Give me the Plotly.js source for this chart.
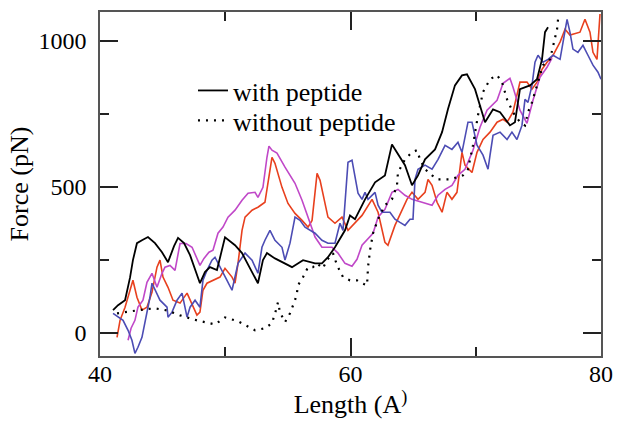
<!DOCTYPE html>
<html>
<head>
<meta charset="utf-8">
<script src="https://cdn.plot.ly/plotly-3.0.1.min.js"></script>
<style>
html,body{margin:0;padding:0;background:#fff;}
#chart svg text{font-family:'Liberation Serif','Times New Roman',serif !important;}
</style>
</head>
<body>
<div id="chart" style="width:621px;height:428px"></div>
<script>
// Series: black solid "with peptide"
var withX = [41.04,41.44,42.0,42.4,42.63,42.95,43.35,43.83,44.39,44.95,45.43,45.91,46.23,46.71,47.19,47.66,47.98,48.38,48.78,49.34,49.98,50.78,51.34,51.98,52.61,53.01,53.33,53.97,54.77,55.33,56.21,57.17,57.72,58.2,58.76,59.56,59.96,60.36,61.16,61.96,62.75,63.31,64.35,64.91,65.39,65.95,66.75,67.31,67.78,68.34,68.9,69.3,69.94,70.18,70.74,71.38,71.94,72.73,73.13,73.53,74.33,74.89,75.29,75.53,75.77];
var withY = [78,95,112,190,249,307,317,328,307,276,242,297,325,307,266,208,170,208,225,215,327,300,273,221,170,249,273,255,238,225,249,238,238,259,293,351,402,389,457,515,539,645,574,505,539,594,628,687,765,847,881,885,834,799,721,765,755,710,721,834,847,868,936,1029,1046];
// Series: black dotted "without peptide"
var withoutX = [41.36,42.4,43.43,44.39,45.35,46.39,47.74,49.18,49.98,51.02,52.38,53.17,53.73,54.05,54.21,54.37,54.77,55.17,55.57,55.73,55.81,56.21,56.61,57.0,57.33,57.8,58.12,58.6,58.92,59.4,59.96,60.52,60.92,61.32,61.4,61.56,61.8,62.2,62.75,63.31,63.71,63.79,64.35,64.91,65.31,65.55,65.95,66.51,66.99,67.94,68.98,69.38,69.78,70.18,70.58,71.14,71.7,72.1,72.5,72.97,73.53,73.93,74.17,74.49,74.89,75.37,75.93,76.17,76.49,76.57];
var withoutY = [67,74,80,84,77,60,43,29,53,40,9,16,33,78,105,71,37,67,112,139,163,191,225,225,238,221,249,273,232,191,180,180,170,163,225,283,341,389,437,457,505,549,594,618,625,594,560,539,525,525,539,560,642,745,824,868,882,858,799,755,721,710,755,789,847,916,936,984,1039,1073];
// Red run
var redX = [41.36,41.6,42.0,42.4,42.63,42.95,43.35,43.75,44.15,44.55,44.79,45.03,45.43,45.83,46.39,46.95,47.35,47.74,47.98,48.22,48.54,49.02,49.58,49.98,50.54,50.78,51.02,51.34,51.58,52.14,52.61,53.17,53.41,53.73,53.97,54.53,55.01,55.57,56.13,56.61,56.93,57.17,57.33,57.57,57.96,58.2,58.76,59.32,59.8,60.36,60.92,61.72,62.2,62.75,62.99,63.55,64.11,64.51,64.91,65.39,65.95,66.19,66.51,66.91,67.31,67.7,68.1,68.5,68.9,69.14,69.7,70.1,70.58,71.14,71.7,72.18,72.5,72.97,73.53,74.09,74.49,74.89,75.29,75.69,76.17,76.73,77.13,77.52,78.32,78.72,79.12,79.36,79.68,79.92];
var redY = [-15,43,88,146,180,122,78,88,139,225,249,191,156,112,102,136,95,61,71,146,170,180,191,221,191,170,238,351,396,420,430,447,512,601,580,498,443,409,385,362,385,478,546,522,443,396,375,396,351,378,402,457,413,310,300,368,423,457,481,457,481,525,505,447,413,481,457,481,618,574,549,618,662,687,721,731,721,755,858,858,834,858,902,926,950,995,1039,1019,1029,1073,1029,960,936,1091];
// Magenta run
var magX = [42.24,42.48,42.79,43.03,43.43,43.75,44.15,44.55,44.95,45.19,45.59,45.99,46.39,46.87,47.35,47.74,47.98,48.3,48.7,49.02,49.42,49.82,50.22,50.78,51.34,51.82,52.38,52.61,53.01,53.33,53.49,53.73,54.13,54.77,55.57,56.13,56.61,57.17,57.72,58.52,59.0,59.56,60.12,60.52,60.92,61.32,61.8,62.2,62.75,63.31,63.79,64.35,64.91,65.71,66.51,66.99,67.55,68.1,68.58,69.14,69.78,70.34,70.9,71.7,72.18,72.73,72.97,73.53,74.09,74.57,75.13,75.69,76.09];
var magY = [-25,16,43,88,112,173,204,156,204,225,231,214,306,306,293,255,231,255,276,283,341,362,396,420,454,478,481,464,498,601,639,625,615,567,512,454,396,328,293,293,273,238,228,252,300,317,341,396,423,481,491,471,457,447,437,471,491,505,539,560,625,704,762,796,854,871,841,762,717,796,875,909,940];
// Blue run
var blueX = [41.04,41.44,41.84,42.24,42.55,42.79,43.03,43.35,43.75,43.99,44.15,44.39,44.79,45.35,45.43,45.75,46.15,46.55,46.95,47.19,47.59,47.98,48.22,48.54,48.94,49.18,49.42,49.82,50.14,50.54,50.78,51.02,51.58,52.14,52.61,52.93,53.17,53.57,53.97,54.53,54.77,55.17,55.57,55.97,56.37,56.77,57.17,57.72,58.2,58.76,59.16,59.4,59.8,60.12,60.36,60.6,60.92,61.16,61.4,61.96,62.2,62.51,63.15,63.55,63.95,64.35,64.75,64.99,65.15,65.39,65.95,66.51,66.99,67.55,68.1,68.58,68.9,69.38,69.7,70.1,70.58,70.98,71.14,71.38,71.94,72.5,72.89,73.29,73.69,73.93,74.17,74.49,74.73,74.97,75.37,75.77,76.17,76.73,76.97,77.29,77.52,77.76,78.16,78.56,78.96,79.36,79.76,80.0];
var blueY = [67,54,43,9,-25,-70,-49,-15,67,122,170,146,112,88,54,71,112,136,54,88,112,88,180,214,249,259,238,204,180,146,191,238,273,249,204,293,317,351,317,293,249,307,396,385,362,351,341,317,307,307,375,351,584,591,529,478,457,481,457,481,437,413,413,389,378,368,389,389,525,560,574,560,594,642,628,652,618,721,721,642,608,560,608,676,687,662,687,662,710,799,789,847,926,950,926,936,950,936,995,1073,1029,971,960,984,950,916,892,868];

var xTickVals = [40,60,80];
var yTickVals = [0,500,1000];
var legendNames = ['with peptide','without peptide'];

var SERIF = 'Liberation Serif';

var traces = [
  {x: redX, y: redY, mode:'lines', line:{color:'#e8401e', width:1.6}, showlegend:false, hoverinfo:'skip'},
  {x: magX, y: magY, mode:'lines', line:{color:'#c048c8', width:1.6}, showlegend:false, hoverinfo:'skip'},
  {x: blueX, y: blueY, mode:'lines', line:{color:'#4c4cb4', width:1.6}, showlegend:false, hoverinfo:'skip'},
  {x: withoutX, y: withoutY, mode:'lines', name: legendNames[1], legend:'legend2', line:{color:'#000', width:2.2, dash:'2px,6px'}, hoverinfo:'skip'},
  {x: withX, y: withY, mode:'lines', name: legendNames[0], legend:'legend', line:{color:'#000', width:1.8}, hoverinfo:'skip'}
];

var axisCommon = {
  showgrid:false, zeroline:false, showline:true, linecolor:'#555', linewidth:1.5,
  mirror:'ticks', ticks:'inside', ticklen:18, tickwidth:2, tickcolor:'#222',
  tickfont:{family:SERIF, size:24, color:'#000'}
};

var legFont = {family:SERIF, size:26, color:'#000'};

var layout = {
  width:621, height:428,
  margin:{l:100, r:20, t:12, b:72},
  paper_bgcolor:'#fff', plot_bgcolor:'#fff',
  font:{family:SERIF, size:24, color:'#000'},
  xaxis: Object.assign({}, axisCommon, {
    range:[40,80], tickvals:xTickVals, ticktext:xTickVals.map(String),
    ticklabelstandoff:-5,
    minor:{tickvals:[50,70], ticklen:9, tickwidth:2, tickcolor:'#222', ticks:'inside'},
    title:{text:'Length (A<sup>)</sup>', font:{family:SERIF, size:26, color:'#000'}, standoff:6}
  }),
  yaxis: Object.assign({}, axisCommon, {
    range:[-79,1098], tickvals:yTickVals, ticktext:yTickVals.map(String),
    ticklabelstandoff:7,
    minor:{tickvals:[250,750], ticklen:9, tickwidth:2, tickcolor:'#222', ticks:'inside'},
    title:{text:'Force (pN)', font:{family:SERIF, size:26, color:'#000'}, standoff:2}
  }),
  legend:{x:0.1856, y:0.840, xanchor:'left', yanchor:'top', bgcolor:'rgba(0,0,0,0)', font:legFont},
  legend2:{x:0.1856, y:0.753, xanchor:'left', yanchor:'top', bgcolor:'rgba(0,0,0,0)', font:legFont}
};

Plotly.newPlot('chart', traces, layout, {displayModeBar:false});
</script>
</body>
</html>
